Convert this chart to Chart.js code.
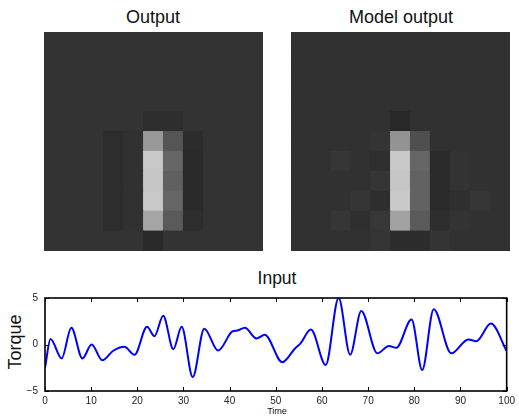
<!DOCTYPE html>
<html>
<head>
<meta charset="utf-8">
<script src="https://cdn.jsdelivr.net/npm/chart.js@4.4.1/dist/chart.umd.min.js"></script>
<style>
  body { margin: 0; background: #fff; width: 519px; height: 416px; position: relative; overflow: hidden; font-family: "Liberation Sans", Arial, sans-serif; }
  .box { position: absolute; }
  .lbl { position: absolute; color: #111; white-space: nowrap; transform: translate(-50%, -50%); }
</style>
</head>
<body>
<div class="lbl" style="left:153px; top:17px; font-size:18px;">Output</div>
<div class="lbl" style="left:401px; top:17px; font-size:18px;">Model output</div>
<div class="lbl" style="left:277px; top:278px; font-size:17.5px;">Input</div>
<div class="lbl" style="left:15px; top:342px; font-size:18px; transform: translate(-50%, -50%) rotate(-90deg);">Torque</div>
<div class="lbl" style="left:277px; top:411px; font-size:9px;">Time</div>

<div class="box" style="left:44px; top:32px; width:219px; height:219px;"><canvas id="output-map"></canvas></div>
<div class="box" style="left:291px; top:32px; width:219px; height:219px;"><canvas id="model-map"></canvas></div>
<div class="box" style="left:0px; top:285px; width:519px; height:131px;"><canvas id="input-chart"></canvas></div>

<script>
// gray levels (0-255), rows listed top to bottom, 11 columns each
const outputGrid = [
  [51, 51, 51, 51, 51, 51, 51, 51, 51, 51, 51],
  [51, 51, 51, 51, 51, 51, 51, 51, 51, 51, 51],
  [51, 51, 51, 51, 51, 51, 51, 51, 51, 51, 51],
  [51, 51, 51, 51, 51, 51, 51, 51, 51, 51, 51],
  [51, 51, 51, 51, 51, 46, 46, 51, 51, 51, 51],
  [51, 51, 51, 45, 49, 153, 85, 44, 51, 51, 51],
  [51, 51, 51, 45, 49, 200, 102, 42, 51, 51, 51],
  [51, 51, 51, 45, 49, 198, 96, 42, 51, 51, 51],
  [51, 51, 51, 45, 49, 200, 102, 42, 51, 51, 51],
  [51, 51, 51, 45, 49, 165, 90, 45, 51, 51, 51],
  [51, 51, 51, 51, 51, 42, 51, 51, 51, 51, 51]
];

const modelGrid = [
  [49, 49, 49, 49, 49, 49, 49, 49, 49, 49, 49],
  [49, 49, 49, 49, 49, 49, 49, 49, 49, 49, 49],
  [49, 49, 49, 49, 49, 49, 49, 49, 49, 49, 49],
  [49, 49, 49, 49, 49, 49, 49, 49, 49, 49, 49],
  [49, 49, 49, 49, 49, 40, 49, 49, 49, 49, 49],
  [49, 49, 49, 49, 52, 147, 79, 49, 49, 49, 49],
  [49, 49, 54, 49, 47, 201, 102, 43, 51, 49, 49],
  [49, 49, 49, 49, 53, 198, 98, 43, 51, 49, 49],
  [49, 49, 49, 53, 46, 201, 98, 43, 47, 54, 49],
  [49, 49, 54, 47, 55, 162, 90, 46, 51, 49, 49],
  [49, 49, 49, 49, 53, 44, 44, 52, 49, 49, 49]
];

// input torque signal, read at turning points
const timeValues = [0, 1.2, 3.6, 5.7, 8.1, 10.1, 12.4, 14.7, 17.2, 19.4, 22.1, 23.7, 25.6, 27.8, 29.6, 32.0,
  34.5, 37.5, 40.6, 41.7, 43.3, 45.8, 47.6, 51.4, 54.2, 55.3, 57.6, 60.8, 63.6, 66.1, 68.5, 72.0,
  74.5, 76.1, 79.4, 81.7, 84.2, 88.0, 91.7, 93.4, 96.6, 100];
const torqueValues = [-2.5, 0.6, -1.5, 1.8, -1.5, 0.0, -1.7, -0.7, -0.25, -1.1, 1.9, 0.9, 3.1, -0.5, 1.9, -3.5,
  1.7, -0.65, 1.4, 1.5, 1.8, 0.65, 1.05, -1.9, -0.4, 0.1, 1.6, -2.2, 5.0, -1.1, 3.6, -0.95,
  -0.15, -0.35, 2.7, -2.75, 3.8, -0.95, 0.55, 0.35, 2.25, -0.7];

const xTicks = [0, 10, 20, 30, 40, 50, 60, 70, 80, 90, 100];
const yTicks = [-5, 0, 5];

function gray(v) {
  return `rgb(${v}, ${v}, ${v})`;
}

function drawHeatmap(id, grid) {
  const cols = grid[0].map((_, i) => i);
  // bottom row goes first in the stack
  const datasets = grid.slice().reverse().map(row => ({
    data: row.map(() => 1),
    backgroundColor: row.map(gray),
    borderWidth: 0,
    barPercentage: 1,
    categoryPercentage: 1,
    inflateAmount: 0.5
  }));
  new Chart(document.getElementById(id), {
    type: 'bar',
    data: { labels: cols, datasets },
    options: {
      responsive: true,
      maintainAspectRatio: false,
      animation: false,
      layout: { padding: 0 },
      plugins: { legend: { display: false }, tooltip: { enabled: false } },
      scales: {
        x: { stacked: true, display: false },
        y: { stacked: true, display: false, min: 0, max: grid.length }
      }
    }
  });
}

drawHeatmap('output-map', outputGrid);
drawHeatmap('model-map', modelGrid);

// matlab style frame with inward ticks
const frameTicks = {
  id: 'frameTicks',
  afterDraw(chart) {
    const { ctx, chartArea: a, scales } = chart;
    ctx.save();
    ctx.strokeStyle = '#000';
    ctx.lineWidth = 1;
    ctx.beginPath();
    xTicks.forEach(t => {
      const px = Math.round(scales.x.getPixelForValue(t)) + 0.5;
      ctx.moveTo(px, a.bottom); ctx.lineTo(px, a.bottom - 4);
      ctx.moveTo(px, a.top); ctx.lineTo(px, a.top + 4);
    });
    yTicks.forEach(t => {
      const py = Math.round(scales.y.getPixelForValue(t)) + 0.5;
      ctx.moveTo(a.left, py); ctx.lineTo(a.left + 4, py);
      ctx.moveTo(a.right, py); ctx.lineTo(a.right - 4, py);
    });
    ctx.stroke();
    ctx.lineWidth = 1.6;
    ctx.strokeRect(a.left, a.top, a.right - a.left, a.bottom - a.top);
    ctx.restore();
  }
};

new Chart(document.getElementById('input-chart'), {
  type: 'line',
  data: {
    datasets: [{
      data: timeValues.map((t, i) => ({ x: t, y: torqueValues[i] })),
      borderColor: '#0000ff',
      borderWidth: 2,
      pointRadius: 0,
      cubicInterpolationMode: 'monotone',
      fill: false
    }]
  },
  options: {
    responsive: true,
    maintainAspectRatio: false,
    animation: false,
    layout: { padding: { top: 9, right: 10, left: 0, bottom: 0 } },
    plugins: { legend: { display: false }, tooltip: { enabled: false } },
    scales: {
      x: {
        type: 'linear',
        min: 0,
        max: 100,
        afterBuildTicks: s => { s.ticks = xTicks.map(v => ({ value: v })); },
        afterFit: s => { s.height = 25; },
        grid: { display: false, drawTicks: false },
        border: { display: false },
        ticks: { padding: 4, color: '#222', font: { family: 'Liberation Sans', size: 10 }, maxRotation: 0 }
      },
      y: {
        min: -5,
        max: 5,
        afterBuildTicks: s => { s.ticks = yTicks.map(v => ({ value: v })); },
        afterFit: s => { s.width = 45; },
        grid: { display: false, drawTicks: false },
        border: { display: false },
        ticks: {
          padding: 7,
          color: '#222',
          font: { family: 'Liberation Sans', size: 10 },
          callback: v => String(v).replace('-', '\u2212')
        }
      }
    }
  },
  plugins: [frameTicks]
});
</script>
</body>
</html>
